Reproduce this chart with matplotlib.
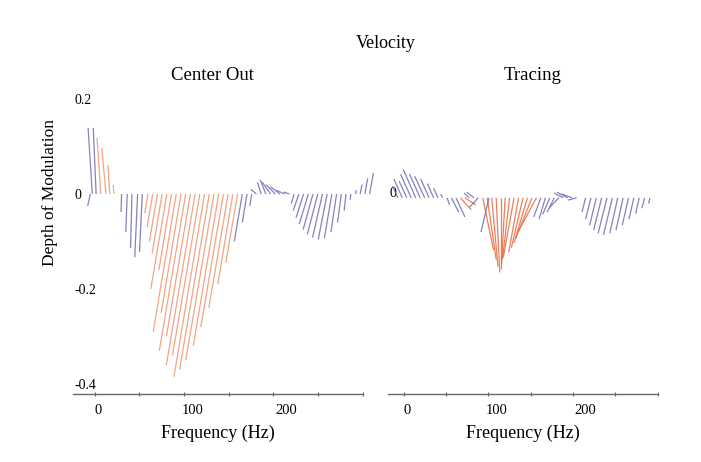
import matplotlib
matplotlib.use("Agg")
import matplotlib.pyplot as plt
from matplotlib.collections import LineCollection

plt.rcParams['font.family'] = ['Liberation Serif', 'DejaVu Serif']

# ---- Center Out: one stroke per frequency bin ----
# base frequency (Hz), depth of modulation at stroke tip, tip offset (Hz), significant (orange)
co_freq = [-8, -6, -2, 3, 8.5, 12.5, 17,
           25, 31, 36, 42, 47,
           53, 58, 63, 68, 73, 78, 83, 88, 93, 98, 103, 108, 113, 118,
           123, 128, 133, 138, 143, 148, 153, 158, 163,
           168, 173, 178, 183, 188, 193, 198, 203,
           208, 213, 218, 223, 228, 233, 238, 243, 248, 253, 258, 263, 268,
           273, 278, 283, 288]
co_depth = [-0.025, 0.139, 0.139, 0.118, 0.097, 0.061, 0.019,
            -0.038, -0.08, -0.114, -0.133, -0.122,
            -0.04, -0.07, -0.10, -0.125, -0.20, -0.16, -0.29, -0.25, -0.33, -0.30, -0.36, -0.34, -0.385, -0.37,
            -0.35, -0.32, -0.28, -0.24, -0.19, -0.145, -0.10, -0.06, -0.025,
            0.01, 0.025, 0.03, 0.025, 0.02, 0.015, 0.008, 0.004,
            -0.02, -0.035, -0.05, -0.063, -0.075, -0.085, -0.092, -0.096, -0.093, -0.08, -0.06, -0.035, -0.012,
            0.008, 0.02, 0.033, 0.044]
co_tilt = [-3, -4.5, -3, -4, -4.5, -2, -1,
           -0.5, -1.5, -1.5, -3, -3,
           -3.5, -6, -8.5, -10.5, -17, -13.5, -24.5, -21, -28, -25.5, -30.5, -29, -32.5, -31.5,
           -30, -27, -24, -20.5, -16, -12.5, -8.5, -5, -2,
           -6, -4, -6, -9, -10, -10, -9, -6,
           -3, -6, -8, -9.5, -10.5, -11, -10.5, -9.5, -8, -6, -4, -2, -0.5,
           1, 2, 3, 4]
co_sig = [0, 0, 0, 1, 1, 1, 1,
          0, 0, 0, 0, 0,
          1, 1, 1, 1, 1, 1, 1, 1, 1, 1, 1, 1, 1, 1,
          1, 1, 1, 1, 1, 1, 0, 0, 0,
          0, 0, 0, 0, 0, 0, 0, 0,
          0, 0, 0, 0, 0, 0, 0, 0, 0, 0, 0, 0, 0,
          0, 0, 0, 0]

# ---- Tracing ----
tr_freq = [-10, -5, 0, 5, 10, 15, 20, 25, 30, 35, 40,
           45, 50, 55, 60, 65, 70, 75, 80,
           85, 90, 92, 95, 100, 105, 110, 115, 120, 125, 130, 135, 140, 145,
           150, 155, 160, 165, 170, 175, 180, 185, 190,
           200, 206, 212, 218, 224, 230, 236, 242, 248, 254, 260, 266, 272]
tr_depth = [0.025, 0.04, 0.035, 0.05, 0.06, 0.05, 0.045, 0.04, 0.03, 0.02, 0.008,
            -0.015, -0.03, -0.04, -0.025, -0.015, 0.01, 0.012, -0.02,
            -0.11, -0.13, -0.072, -0.145, -0.157, -0.15, -0.14, -0.13, -0.125, -0.115, -0.105, -0.095, -0.085, -0.07,
            -0.04, -0.045, -0.035, -0.03, -0.02, 0.01, 0.012, 0.008, -0.005,
            -0.03, -0.045, -0.058, -0.068, -0.075, -0.078, -0.075, -0.068, -0.058, -0.045, -0.033, -0.022, -0.012]
tr_tilt = [-6, -9.5, -8.5, -12, -14, -12, -11, -9.5, -7, -5, -2,
           3, 8, 10, 12, 12, -6, -8, -10,
           12, 10, -9, 7, 4, 0, -4, -8, -12, -11, -13, -15, -18, -20,
           -8, -7, -8, -8, -10, -10, -12, -12, -10,
           -4, -6, -7.5, -9, -10, -10, -9, -8, -7, -5.5, -4, -3, -1.5]
tr_sig = [0, 0, 0, 0, 0, 0, 0, 0, 0, 0, 0,
          0, 0, 0, 1, 1, 0, 0, 0,
          1, 1, 0, 1, 1, 1, 1, 1, 1, 1, 1, 1, 1, 1,
          0, 0, 0, 0, 0, 0, 0, 0, 0,
          0, 0, 0, 0, 0, 0, 0, 0, 0, 0, 0, 0, 0]

tick_marks = [-3.5, 44, 91, 139, 186, 233, 281]
blue = '#6f6db3'


def draw_panel(ax, freq, depth, tilt, sig, orange):
    segs = [[(f, 0), (f + t, d)] for f, d, t in zip(freq, depth, tilt)]
    cols = [orange if s else blue for s in sig]
    lc = LineCollection(segs, colors=cols, linewidths=0.9, alpha=0.85)
    lc.set_clip_on(False)
    ax.add_collection(lc)
    for side in ['left', 'top', 'right']:
        ax.spines[side].set_visible(False)
    ax.spines['bottom'].set_color('#666666')
    ax.spines['bottom'].set_linewidth(1.0)
    ax.set_xticks([0, 100, 200])
    ax.set_xticklabels(['0', '100', '200'], fontsize=10.5)
    ax.set_xticks(tick_marks, minor=True)
    ax.tick_params(axis='x', which='major', length=0, pad=7)
    ax.tick_params(axis='x', which='minor', length=3, width=0.8,
                   direction='inout', color='#666666')
    ax.tick_params(axis='y', length=0, pad=-1, labelsize=10)
    for lab in ax.get_yticklabels():
        lab.set_horizontalalignment('left')
    ax.set_xlabel('Frequency (Hz)', fontsize=13, labelpad=6)


fig = plt.figure(figsize=(7.01, 4.62), dpi=100)
ax1 = fig.add_axes([73 / 701, 68 / 462, 290 / 701, 304.5 / 462])
ax2 = fig.add_axes([388 / 701, 68 / 462, 270 / 701, 304.5 / 462])

ax1.set_xlim(-26.5, 281)
ax1.set_ylim(-0.421, 0.22)
ax1.set_yticks([0.2, 0, -0.2, -0.4])
ax1.set_yticklabels(['0.2', '0', '-0.2', '-0.4'])
draw_panel(ax1, co_freq, co_depth, co_tilt, co_sig, '#ef9670')

ax2.set_xlim(-21, 281)
ax2.set_ylim(-0.413, 0.228)
ax2.set_yticks([0.012])
ax2.set_yticklabels(['0'])
draw_panel(ax2, tr_freq, tr_depth, tr_tilt, tr_sig, '#e8683e')

fig.text(386 / 701, 1 - 43 / 462, 'Velocity', ha='center', va='center', fontsize=13)
fig.text(212 / 701, 1 - 75 / 462, 'Center Out', ha='center', va='center', fontsize=13.5)
fig.text(533 / 701, 1 - 75 / 462, 'Tracing', ha='center', va='center', fontsize=13.5)
fig.text(50 / 701, 1 - 193 / 462, 'Depth of Modulation', rotation=90,
         ha='center', va='center', fontsize=12.5)

fig.savefig('out.png', dpi=100)
